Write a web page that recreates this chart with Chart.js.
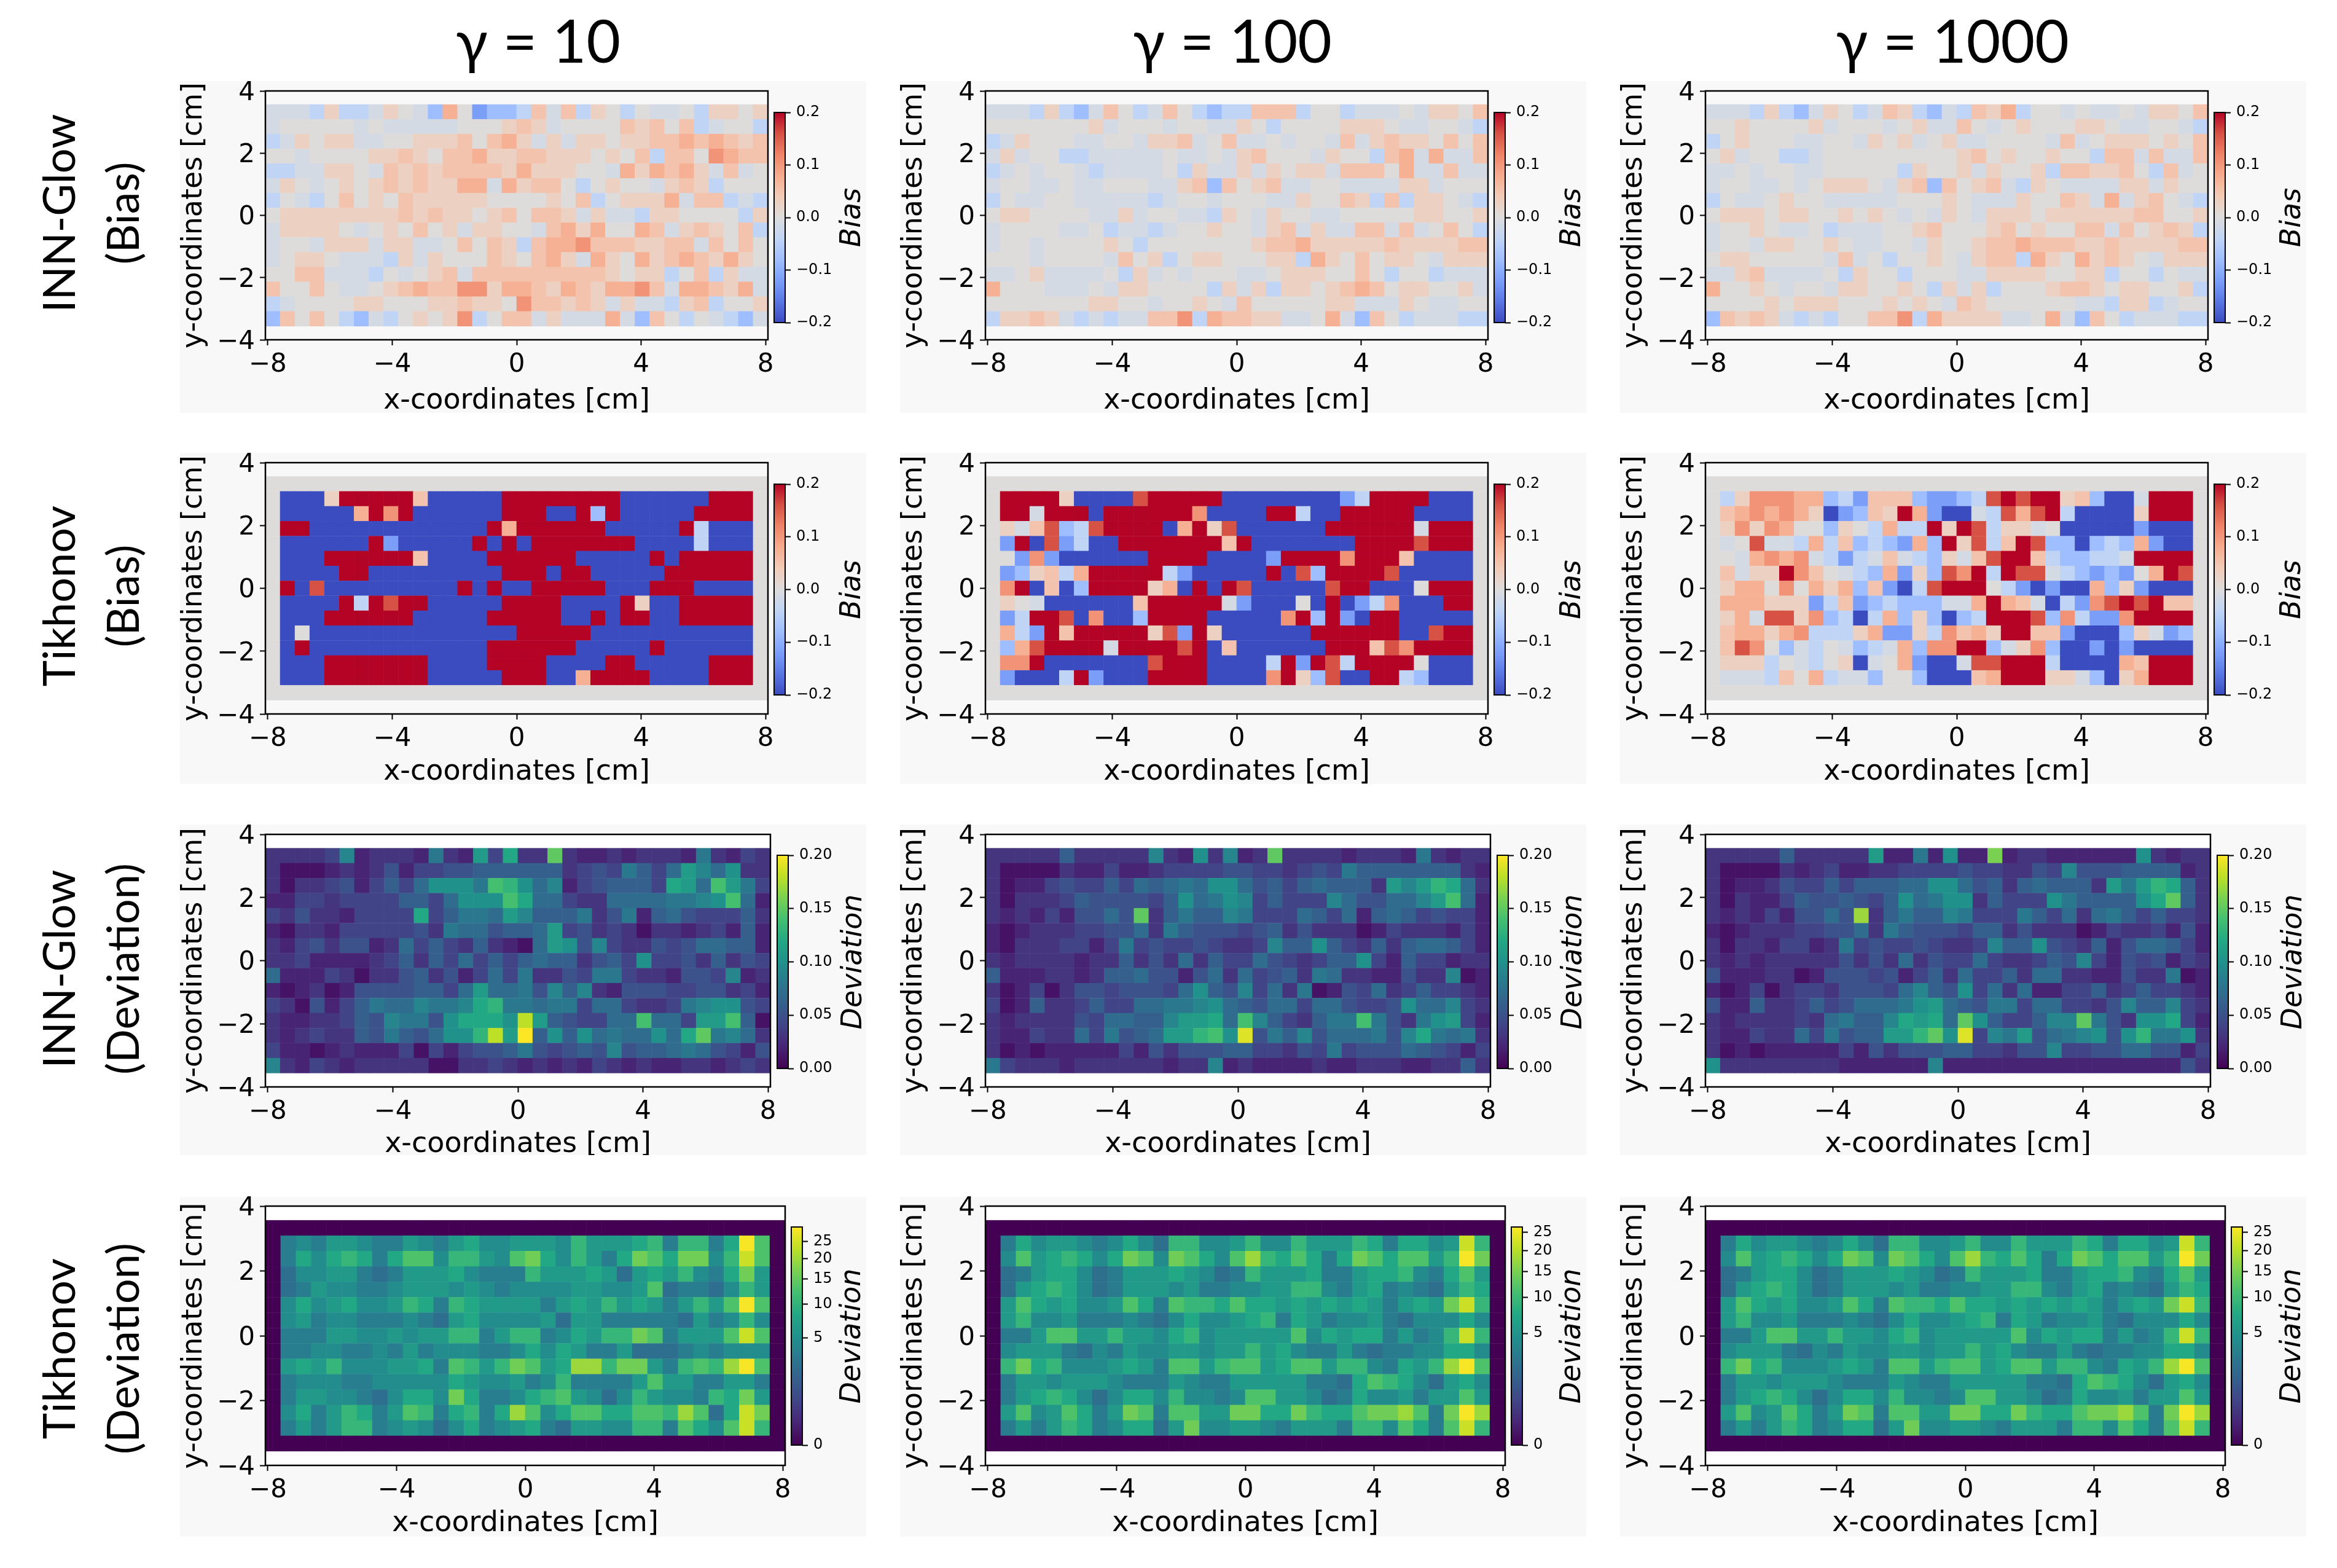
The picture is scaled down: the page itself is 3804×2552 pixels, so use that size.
<!DOCTYPE html>
<html>
<head>
<meta charset="utf-8">
<script src="https://cdn.jsdelivr.net/npm/chart.js@4"></script>
<style>
  body { margin: 0; background: #fff; width: 3804px; height: 2552px; position: relative; overflow: hidden; }
  canvas { position: absolute; }
  .panel { position: absolute; background: #f8f8f8; }
  .head { position: absolute; font-family: Lato, "Noto Sans"; font-size: 96px; transform: translateX(-50%); white-space: pre; color: #000; }
  .side { position: absolute; font-family: Lato, "Noto Sans"; font-size: 72px; line-height: 104px; text-align: center; white-space: pre; color: #000; transform: translate(-50%, -50%) rotate(-90deg); }
</style>
</head>
<body>
<script>
// Titles
const columnTitles = ['γ = 10', 'γ = 100', 'γ = 1000'];
const rowTitles = ['INN-Glow\n(Bias)', 'Tikhonov\n(Bias)', 'INN-Glow\n(Deviation)', 'Tikhonov\n(Deviation)'];

// Cell grid in cm
const cellSize = 0.475;
const xTicks = [-8, -4, 0, 4, 8];
const yTicks = [-4, -2, 0, 2, 4];

// Each character of a row is an index (base 36) in one of these level lists
const biasLevels = [-0.2, -0.12, -0.08, -0.04, -0.012, 0.001, 0.028, 0.05, 0.075, 0.105, 0.16, 0.2];
const innDevLevels = [0, 0.01, 0.02, 0.03, 0.04, 0.05, 0.06, 0.07, 0.08, 0.09, 0.1, 0.11, 0.12, 0.13, 0.14, 0.15, 0.16, 0.17, 0.18, 0.19, 0.2];
const tikDevLevels10 = [0, 2.3, 3.4, 4.7, 6.4, 8.3, 10.5, 13, 16, 19.8, 24, 29];
const tikDevLevels100 = [0, 2.1, 3, 4.2, 5.7, 7.4, 9.4, 11.6, 14.3, 17.7, 21.5, 26];

// Bias, INN-Glow (rows from top to bottom)
const innBias10 = [
  '4443633465' + '4285122374' + '7365354453' + '6656',
  '4555554544' + '4445556764' + '5555767573' + '4553',
  '3465664455' + '6667578646' + '4665667787' + '8767',
  '5545555667' + '6577866776' + '6656573775' + '9877',
  '3344665476' + '7677776866' + '6554868786' + '4745',
  '4654565676' + '7668848677' + '5356554676' + '3555',
  '3543575657' + '6666655556' + '5735666847' + '7343',
  '5666666667' + '6766567577' + '6464436655' + '5536',
  '4666654565' + '7564665547' + '8685587467' + '6573',
  '4554666466' + '4457576378' + '8977766774' + '7575',
  '4566544436' + '4655576578' + '6486586787' + '6865',
  '5577444354' + '5674777777' + '7776566357' + '3644',
  '7557544567' + '8779968876' + '8768897488' + '7684',
  '3455556655' + '5667665977' + '6764644367' + '3556',
  '2757532435' + '6569357746' + '4448427535' + '4324'
];
const innBias100 = [
  '4443632475' + '3475323377' + '7355344454' + '6657',
  '5555555645' + '5545544653' + '5555666544' + '5543',
  '3465554455' + '4667457445' + '4554746766' + '5757',
  '4645533444' + '4454454675' + '5546553784' + '8447',
  '3454554344' + '4453644646' + '5664777584' + '4744',
  '4554454455' + '5446727567' + '4455444466' + '4555',
  '3544554444' + '4345545554' + '4655763736' + '6543',
  '5665555446' + '4554436546' + '5544555556' + '6556',
  '4555544534' + '4345565546' + '7464477474' + '5753',
  '4554555565' + '3555555567' + '7866666766' + '6677',
  '5554555547' + '5635665556' + '6386575665' + '4666',
  '4456444453' + '6454555445' + '6665575355' + '3444',
  '8555444546' + '6555536463' + '6656787566' + '5564',
  '5555555665' + '5455654755' + '5556644465' + '4455',
  '3667643434' + '4779387766' + '4458427534' + '4433'
];
const innBias1000 = [
  '4443632465' + '3476324376' + '8355454454' + '6657',
  '5565555645' + '5545644754' + '5655566544' + '5543',
  '3565554455' + '4656456445' + '5554745666' + '5657',
  '5645533455' + '5555555675' + '6556553774' + '7447',
  '4454554455' + '5553655646' + '5563776675' + '3745',
  '4554454566' + '6546727567' + '4365444466' + '4655',
  '3544565544' + '4445556544' + '4655764846' + '7543',
  '5666566556' + '5654546546' + '6656666667' + '7556',
  '4556544534' + '4455675556' + '7565577475' + '6763',
  '4554665565' + '4455465567' + '7877766766' + '6677',
  '5665555547' + '4535565467' + '7386586765' + '4666',
  '4467444453' + '6553555446' + '6665566355' + '3544',
  '8556545546' + '6556536463' + '5556776566' + '5563',
  '5555656665' + '5565654765' + '5555544366' + '3455',
  '2767643435' + '5779386666' + '4458427534' + '4433'
];

// Bias, Tikhonov
const flatBias = '5555555555' + '5555555555' + '5555555555' + '5555';
const tikBias10 = [
  flatBias,
  '50006bbbbb' + '700000bbbb' + 'bbbb000000' + 'bbb5',
  '5000008b9b' + '000000bbb0' + '0b2b00000b' + 'bbb5',
  '5bb0000000' + '00000b8bbb' + 'bbb00000b3' + '0005',
  '5000000b10' + '0000b0b0bb' + 'bbbbb00003' + '0005',
  '5000bbbbbb' + '70000bbbbb' + 'b00000b0bb' + 'bbb5',
  '50000bb000' + '000000bbb0' + 'bb00000bbb' + 'bbb5',
  '5b0a000000' + '000b0b00bb' + 'bbb000bbb0' + '0005',
  '50000b3bab' + 'b00000bbbb' + '0000b600bb' + 'bbb5',
  '5000bbbbbb' + '00000bbbbb' + '00b0bb00bb' + 'bbb5',
  '5050000000' + '0000000bbb' + 'bb00000000' + '0005',
  '50b0000000' + '00000bbbbb' + 'b00000b000' + '0005',
  '5000bbbbbb' + 'b0000bbbb0' + '000bb00000' + 'bbb5',
  '5000bbbbbb' + 'b00000bbb0' + '08bbbb0000' + 'bbb5',
  flatBias
];
const tikBias100 = [
  flatBias,
  '5bbbb60000' + 'abbbbb0000' + '000013bbbb' + '0005',
  '5bb4bbb0bb' + 'bbbb90000b' + 'b300bbbbb0' + '0005',
  '5647a23abb' + 'bb08b6a000' + '000bbbbbb4' + 'bbb5',
  '51b0a1300b' + 'bbbbbb7b00' + '00000bbbba' + 'bbb5',
  '5519100000' + '0bbbb00001' + 'bbbb9bbb70' + '0005',
  '5126738bbb' + 'bb3100000b' + '0a2bbbba00' + '0005',
  '59b0702bbb' + 'b680b0ba00' + '000abb0005' + 'bbb5',
  '5654000000' + '7bbbbb4100' + '050b013900' + '0bb5',
  '513bba0900' + '2bbbb00000' + '9b2b10bb00' + '0005',
  '5831b7bbbb' + 'b6a1b60000' + '00bbbbbb00' + 'abb5',
  '528abbbb4b' + 'bbbab07000' + '000bbb7a9b' + 'bbb5',
  '599b000000' + '0abbb00003' + 'b1ba3bbbb5' + '0005',
  '510003b100' + '0bbbb00009' + 'b62a00bb32' + '0005',
  flatBias
];
const tikBias1000 = [
  flatBias,
  '5369998823' + '177721123a' + 'babb672004' + 'bbb5',
  '5789898601' + '276b810043' + 'a8ab300006' + 'bbb5',
  '5696985526' + '53833b6ba3' + '6645000001' + '0005',
  '545a443837' + '232182b6a3' + '7ba2202328' + '1005',
  '5548989431' + '347432647a' + 'bb7322334b' + 'bbb5',
  '57466b9754' + '328162a9b3' + 'baa4321215' + '8ba5',
  '5688595868' + '27103abbb5' + '3101008261' + '0005',
  '5888666137' + '123222448b' + '8740319aba' + 'b775',
  '5684aa6923' + '038262023b' + 'bba293119b' + 'bbb5',
  '5788689333' + '6811639786' + 'bb77100026' + '4125',
  '57a9524354' + '2348299bb2' + '4692001010' + '0005',
  '5666354356' + '04581004aa' + 'bbb3000087' + 'bbb5',
  '5444375834' + '4255200078' + 'bbb6642068' + 'bbb5',
  flatBias
];

// Deviation, INN-Glow
const innDev10 = [
  '3333492333' + '2832b4c33f' + '3223233328' + '3243',
  '3111232352' + '4455666666' + '34548647b9' + '7a33',
  '3133452464' + '7aaa8eda79' + '2456664cb7' + 'eb84',
  '2244344446' + '647aaaec77' + '4337777889' + 'ae72',
  '4353324444' + 'c46887b966' + '6835826754' + '4463',
  '2133244444' + '538775667b' + '4534313323' + '4262',
  '3245355237' + '464363217b' + 'a594335457' + '7662',
  '3342222346' + '3647464676' + '63564a4453' + '6354',
  '7222431335' + '6352474833' + '5488433255' + '4923',
  '2123125555' + '6647b77859' + '6932555445' + '5342',
  '4315246877' + '9889cd8878' + '8477433489' + 'aa54',
  '3223346598' + '85acccaib6' + '54477e774b' + 'be61',
  '3234336586' + '57aadibk6a' + '6a7877a7cf' + '8973',
  '4221232224' + '1424556854' + '5659566787' + '5425',
  '9324323333' + '3113343232' + '3243232233' + '2343'
];
const innDev100 = [
  '3333363333' + '3932a3923f' + '3333233328' + '3233',
  '3111132242' + '2344445544' + '3454866666' + '6632',
  '3122454464' + '76787aa756' + '4676663b9b' + 'dc73',
  '3133346555' + '546a78a946' + '4449755779' + 'be72',
  '3232425575' + 'f368669844' + '4764726764' + '5442',
  '2123334455' + '7386555456' + '3533312433' + '3242',
  '2133344248' + '4544543349' + '66a6436367' + '7642',
  '3233332336' + '3537364475' + '43466a4264' + '4233',
  '6222332366' + '7552573745' + '6387332253' + '3912',
  '3124135545' + '5547a65947' + '3812547346' + '4432',
  '4126334644' + '77889a7657' + '74775445a7' + '7943',
  '3233335477' + '669bbc7e96' + '43688e8538' + 'ab42',
  '3224337485' + '67bbdeaj58' + '695777859c' + '8783',
  '3121222224' + '2535556644' + '3548455576' + '5424',
  '8433323333' + '3323392322' + '2232233322' + '3363'
];
const innDev1000 = [
  '3333363333' + '3b2282a22g' + '233222222a' + '3233',
  '3111132342' + '2334444544' + '3354955566' + '6623',
  '3122354464' + '66677aa756' + '3676663b8b' + 'dc63',
  '3132246556' + '546a78aa36' + '444a86666a' + 'cf63',
  '3232425575' + 'h368669844' + '4864737864' + '6443',
  '2123334455' + '7386555466' + '3533312433' + '4252',
  '3133244238' + '4544543349' + '66a5436257' + '7642',
  '3232333335' + '3537354474' + '3346594254' + '5243',
  '5222331255' + '5452463744' + '6377332253' + '3812',
  '2124134435' + '5547965a47' + '3722446346' + '4432',
  '5226334645' + '7778ab7658' + '8477443596' + '6943',
  '3233334378' + '669cbc7fa6' + '44699f853a' + 'ac42',
  '3224337485' + '66bbdfaj49' + '8b5789a5ad' + '88a3',
  '3121222224' + '2535556644' + '3559445577' + '5524',
  'a333333332' + '2222292222' + '2222222222' + '2253'
];

// Deviation, Tikhonov
const flatDev = '0000000000' + '0000000000' + '0000000000' + '0000';
const tikDev10 = [
  flatDev,
  '0232443224' + '3245334443' + '6444562662' + '5b70',
  '0253565257' + '7366437853' + '6425875883' + '6a70',
  '0133442124' + '4453222644' + '4541454632' + '5840',
  '0124332234' + '4434323333' + '4433471221' + '3640',
  '0353453346' + '5265444424' + '5464542464' + '7b70',
  '0342332223' + '2145333341' + '4422222142' + '3630',
  '0222443343' + '4466246623' + '5466872444' + '7a70',
  '0223322324' + '2333223535' + '4224111232' + '3330',
  '0454633344' + '5276468745' + '9968842676' + '9b70',
  '0233322333' + '3354334236' + '2222474422' + '4420',
  '0244332135' + '5385223567' + '4313643326' + '5840',
  '0352465247' + '6256259735' + '7755776971' + '5a80',
  '0242466234' + '3135234521' + '4433662753' + '7a60',
  flatDev
];
const tikDev100 = [
  flatDev,
  '0253443235' + '3166334633' + '6444652553' + '4a60',
  '0374565358' + '7387537965' + '7525875774' + '6b80',
  '0124553124' + '4454312644' + '4522455632' + '5740',
  '0145653124' + '4434223344' + '6632452321' + '4650',
  '0475453347' + '5276657554' + '5454542454' + '8a60',
  '0463342223' + '2135334562' + '5423342133' + '3530',
  '0224774464' + '4356344444' + '7354552423' + '6a60',
  '0344421324' + '3344344645' + '3224212233' + '5530',
  '0685633345' + '4277467745' + '7746632546' + '9b70',
  '0244344432' + '2243224444' + '4221576531' + '4530',
  '0245653135' + '5363323774' + '4312533424' + '4740',
  '0473475248' + '7277448855' + '8655788972' + '8b90',
  '0242465235' + '5148334432' + '4442663752' + '7a60',
  flatDev
];
// gamma = 1000 reads the same as gamma = 100 at this resolution
const tikDev1000 = tikDev100;

// Colorbar ticks
const biasTicks = [-0.2, -0.1, 0, 0.1, 0.2];
const biasTickLabels = ['−0.2', '−0.1', '0.0', '0.1', '0.2'];
const innDevTicks = [0, 0.05, 0.1, 0.15, 0.2];
const innDevTickLabels = ['0.00', '0.05', '0.10', '0.15', '0.20'];
const tikDevTicks = [0, 5, 10, 15, 20, 25];
const tikDevTickLabels = ['0', '5', '10', '15', '20', '25'];

// Colormaps
const viridis = ['#440154', '#482475', '#414487', '#355f8d', '#2a788e', '#21918c', '#22a884', '#44bf70', '#7ad151', '#bddf26', '#fde725'];
const coolwarm = ['#3b4cc0', '#5977e3', '#7b9ff9', '#9ebeff', '#c0d4f5', '#dddcdc', '#f2cbb7', '#f7ac8e', '#ee8468', '#d65244', '#b40426'];

const hexToRgb = (h) => [1, 3, 5].map(i => parseInt(h.slice(i, i + 2), 16));
const colorAt = (stops, t) => {
  const p = Math.min(Math.max(t, 0), 1) * (stops.length - 1);
  const i = Math.min(Math.floor(p), stops.length - 2);
  const a = hexToRgb(stops[i]);
  const b = hexToRgb(stops[i + 1]);
  const c = a.map((v, k) => Math.round(v + (b[k] - v) * (p - i)));
  return `rgb(${c[0]},${c[1]},${c[2]})`;
};

// Page layout, in pixels of the 3804x2552 page
const colLefts = [293, 1465, 2637];
const panelWidth = 1117;
const headCenters = [876, 2006, 3178];
const sideCenters = [347, 970, 1577, 2195];
const rowLayout = [
  { top: 132, bottom: 672, plotTop: 148, plotBottom: 553, plotWidth: 818, barLeft: 966, barTop: 183, barBottom: 525, labelGap: 110, titlePad: -4, fill: null },
  { top: 737, bottom: 1276, plotTop: 753, plotBottom: 1162, plotWidth: 818, barLeft: 966, barTop: 788, barBottom: 1131, labelGap: 110, titlePad: -4, fill: null },
  { top: 1342, bottom: 1880, plotTop: 1358, plotBottom: 1769, plotWidth: 822, barLeft: 971, barTop: 1392, barBottom: 1739, labelGap: 107, titlePad: -6, fill: '#fff' },
  { top: 1948, bottom: 2501, plotTop: 1963, plotBottom: 2385, plotWidth: 846, barLeft: 994, barTop: 1997, barBottom: 2352, labelGap: 82, titlePad: -2, fill: '#fff' }
];

const biasScale = { stops: coolwarm, min: -0.2, max: 0.2, gamma: 1, levels: biasLevels, ticks: biasTicks, labels: biasTickLabels, name: 'Bias' };
const innDevScale = { stops: viridis, min: 0, max: 0.2, gamma: 1, levels: innDevLevels, ticks: innDevTicks, labels: innDevTickLabels, name: 'Deviation' };
const tikScale10 = { stops: viridis, min: 0, max: 29.7, gamma: 0.4, levels: tikDevLevels10, ticks: tikDevTicks, labels: tikDevTickLabels, name: 'Deviation' };
const tikScale100 = { ...tikScale10, max: 26.6, levels: tikDevLevels100 };

const panels = [
  [innBias10, biasScale], [innBias100, biasScale], [innBias1000, biasScale],
  [tikBias10, biasScale], [tikBias100, biasScale], [tikBias1000, biasScale],
  [innDev10, innDevScale], [innDev100, innDevScale], [innDev1000, innDevScale],
  [tikDev10, tikScale10], [tikDev100, tikScale100], [tikDev1000, tikScale100]
];

const norm = (scale, v) => Math.pow(Math.max((v - scale.min) / (scale.max - scale.min), 0), scale.gamma);

// Turns the rows of a panel into scatter points at the cell centres
const toCells = (rows, levels) => {
  const cells = [];
  rows.forEach((row, r) => {
    row.split('').forEach((ch, c) => {
      cells.push({ x: (c - 16.5) * cellSize, y: (7 - r) * cellSize, v: levels[parseInt(ch, 36)] });
    });
  });
  return cells;
};

const addCanvas = (left, top, w, h) => {
  const cv = document.createElement('canvas');
  cv.width = w;
  cv.height = h;
  cv.style.left = left + 'px';
  cv.style.top = top + 'px';
  document.body.appendChild(cv);
  return cv;
};

const tickFont = { family: '"DejaVu Sans"', size: 42 };
const titleFont = { family: '"DejaVu Sans"', size: 46, lineHeight: 1 };
const minusSign = (v) => String(v).replace('-', '−');

// Fills the plot interior and draws the four sides of the frame
const framePlugin = (fill) => ({
  id: 'frame',
  beforeDraw(chart) {
    if (!fill) return;
    const a = chart.chartArea;
    chart.ctx.fillStyle = fill;
    chart.ctx.fillRect(a.left, a.top, a.width, a.height);
  },
  afterDatasetsDraw(chart) {
    const a = chart.chartArea;
    chart.ctx.strokeStyle = '#000';
    chart.ctx.lineWidth = 2.5;
    chart.ctx.strokeRect(a.left, a.top, a.width, a.height);
  }
});

const drawHeatmap = (rows, scale, left, row) => {
  const over = 24; // room above the panel for the top tick label
  const canvasH = row.bottom - row.top + over;
  const canvasW = 139 + row.plotWidth + 30;
  const cv = addCanvas(left, row.top - over, canvasW, canvasH);
  new Chart(cv, {
    type: 'scatter',
    data: {
      datasets: [{
        data: toCells(rows, scale.levels),
        showLine: false,
        pointStyle: 'rect',
        pointBorderWidth: 0,
        pointRadius: (ctx) => {
          const x = ctx.chart.scales.x;
          return (Math.abs(x.getPixelForValue(cellSize) - x.getPixelForValue(0)) + 0.6) / Math.SQRT2;
        },
        pointBackgroundColor: (ctx) => colorAt(scale.stops, norm(scale, ctx.raw.v))
      }]
    },
    options: {
      responsive: false,
      animation: false,
      events: [],
      devicePixelRatio: 1,
      layout: { padding: { top: row.plotTop - row.top + over, right: 30, left: 0, bottom: 0 } },
      plugins: { legend: { display: false }, tooltip: { enabled: false } },
      scales: {
        x: {
          type: 'linear',
          min: -17 * cellSize,
          max: 17 * cellSize,
          afterFit: (s) => { s.height = row.bottom - row.plotBottom; },
          afterBuildTicks: (s) => { s.ticks = xTicks.map(v => ({ value: v })); },
          border: { display: false },
          grid: { drawOnChartArea: false, tickLength: 9, tickWidth: 2, tickColor: '#000' },
          ticks: { font: tickFont, color: '#000', padding: 7, maxRotation: 0, autoSkip: false, callback: minusSign },
          title: { display: true, text: 'x-coordinates [cm]', font: titleFont, color: '#000', padding: { top: 0, bottom: row.titlePad } }
        },
        y: {
          type: 'linear',
          min: -4,
          max: 4,
          afterFit: (s) => { s.width = 139; },
          afterBuildTicks: (s) => { s.ticks = yTicks.map(v => ({ value: v })); },
          border: { display: false },
          grid: { drawOnChartArea: false, tickLength: 9, tickWidth: 2, tickColor: '#000' },
          ticks: { font: tickFont, color: '#000', padding: 8, labelOffset: 4, autoSkip: false, callback: minusSign },
          title: { display: true, text: 'y-coordinates [cm]', font: titleFont, color: '#000', padding: { top: 0, bottom: 0 } }
        }
      }
    },
    plugins: [framePlugin(row.fill)]
  });
};

// The colorbar is its own small chart: its axis runs over the normalised value
const drawColorbar = (scale, left, row) => {
  const barWidth = 18;
  const canvasLeft = left + row.barLeft;
  const canvasW = left + panelWidth - canvasLeft;
  const canvasH = row.bottom - row.top;
  const cv = addCanvas(canvasLeft, row.top, canvasW, canvasH);
  new Chart(cv, {
    type: 'scatter',
    data: { datasets: [] },
    options: {
      responsive: false,
      animation: false,
      events: [],
      devicePixelRatio: 1,
      layout: { padding: { top: row.barTop - row.top, bottom: row.bottom - row.barBottom, left: 1, right: 0 } },
      plugins: { legend: { display: false }, tooltip: { enabled: false } },
      scales: {
        x: { display: false },
        y: {
          type: 'linear',
          position: 'right',
          min: 0,
          max: 1,
          afterFit: (s) => { s.width = canvasW - 1 - barWidth; },
          afterBuildTicks: (s) => { s.ticks = scale.ticks.map(v => ({ value: norm(scale, v) })); },
          border: { display: false },
          grid: { drawOnChartArea: false, tickLength: 9, tickWidth: 2, tickColor: '#000' },
          ticks: { font: { family: '"DejaVu Sans"', size: 24 }, color: '#000', padding: 9, autoSkip: false, callback: (v, i) => scale.labels[i] }
        }
      }
    },
    plugins: [{
      id: 'bar',
      beforeDatasetsDraw(chart) {
        const { ctx, chartArea: a } = chart;
        const grad = ctx.createLinearGradient(0, a.bottom, 0, a.top);
        scale.stops.forEach((c, i) => grad.addColorStop(i / (scale.stops.length - 1), c));
        ctx.fillStyle = grad;
        ctx.fillRect(a.left, a.top, a.width, a.height);
        ctx.strokeStyle = '#000';
        ctx.lineWidth = 2;
        ctx.strokeRect(a.left, a.top, a.width, a.height);
        // label reads upwards, the library would turn it the other way on a right axis
        ctx.save();
        ctx.translate(a.right + row.labelGap, (a.top + a.bottom) / 2);
        ctx.rotate(-Math.PI / 2);
        ctx.font = 'italic 46px "DejaVu Sans"';
        ctx.fillStyle = '#000';
        ctx.textAlign = 'center';
        ctx.textBaseline = 'middle';
        ctx.fillText(scale.name, 0, 0);
        ctx.restore();
      }
    }]
  });
};

// Headings
columnTitles.forEach((t, i) => {
  const d = document.createElement('div');
  d.className = 'head';
  d.textContent = t;
  d.style.left = headCenters[i] + 'px';
  d.style.top = '7px';
  document.body.appendChild(d);
});
rowTitles.forEach((t, i) => {
  const d = document.createElement('div');
  d.className = 'side';
  d.textContent = t;
  d.style.left = '146px';
  d.style.top = sideCenters[i] + 'px';
  document.body.appendChild(d);
});

// Grey panels, then the twelve charts
panels.forEach(([rows, scale], n) => {
  const row = rowLayout[Math.floor(n / 3)];
  const left = colLefts[n % 3];
  const p = document.createElement('div');
  p.className = 'panel';
  p.style.left = left + 'px';
  p.style.top = row.top + 'px';
  p.style.width = panelWidth + 'px';
  p.style.height = (row.bottom - row.top) + 'px';
  document.body.appendChild(p);
  drawHeatmap(rows, scale, left, row);
  drawColorbar(scale, left, row);
});
</script>
</body>
</html>
